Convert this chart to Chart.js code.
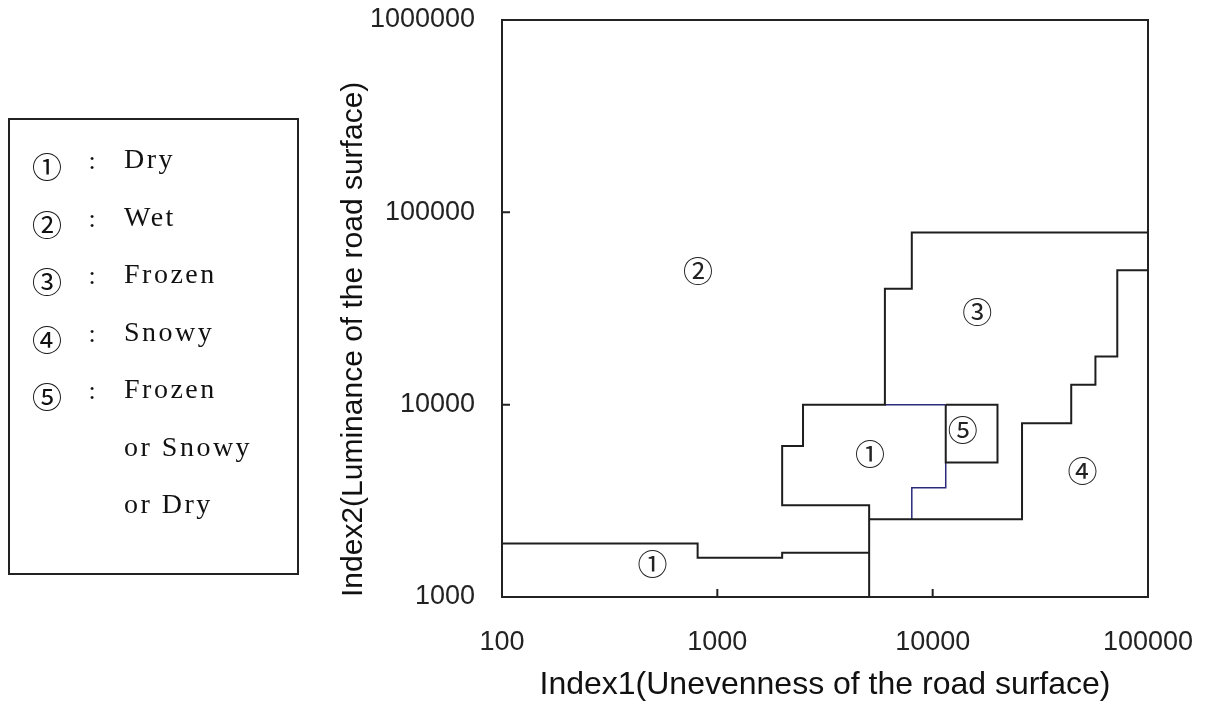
<!DOCTYPE html>
<html>
<head>
<meta charset="utf-8">
<script src="https://cdn.jsdelivr.net/npm/chart.js@4.4.0/dist/chart.umd.min.js"></script>
<style>
  body { margin: 0; background: #fff; }
  #wrap { position: relative; width: 1206px; height: 704px; }
  #legendBox {
    position: absolute; left: 8px; top: 118px; width: 287px; height: 453px;
    border: 2px solid #222; box-sizing: content-box;
  }
  .row { position: absolute; left: 0; height: 30px; line-height: 30px; color: #111; }
  .key { position: absolute; left: 20px; width: 34px; text-align: center; font: 30px "Noto Sans CJK JP", sans-serif; }
  .colon { position: absolute; left: 77px; width: 10px; text-align: center; font: 26px "Liberation Serif", serif; top: 3px; }
  .txt { position: absolute; left: 114px; white-space: nowrap; font: 28px "Liberation Serif", serif; letter-spacing: 2.5px; }
</style>
</head>
<body>
<div id="wrap">
  <canvas id="chart" width="1206" height="704"></canvas>
  <div id="legendBox"></div>
</div>
<script>
// axis ticks
const xTickValues = [100, 1000, 10000, 100000];
const yTickValues = [1000, 10000, 100000, 1000000];

// region boundaries, corners as [Index1, Index2]
const dryLowTop = [[100, 1900], [810, 1900], [810, 1600], [2000, 1600], [2000, 1700], [5070, 1700]];
const dryWetEdge = [[5070, 1000], [5070, 3000], [2000, 3000], [2000, 6100], [2500, 6100], [2500, 10000],
                    [6000, 10000], [6000, 40000], [8000, 40000], [8000, 78500], [100000, 78500]];
const snowyEdge = [[5070, 2540], [26000, 2540], [26000, 8000], [44000, 8000], [44000, 12700], [57000, 12700],
                   [57000, 17800], [72000, 17800], [72000, 50000], [100000, 50000]];
const mixedBox = [[11500, 10000], [20000, 10000], [20000, 5000], [11500, 5000], [11500, 10000]];
const dryFrozenTop = [[6000, 10000], [11500, 10000]];
const dryFrozenStep = [[11500, 5000], [11500, 3700], [8000, 3700], [8000, 2540]];

// region markers
const regionLabels = ['①', '②', '③', '④', '⑤', '①'];
const regionX = [500, 813, 16100, 49600, 13800, 5110];
const regionY = [1500, 50000, 30400, 4540, 7450, 5600];

// legend
const legendKeys = ['①', '②', '③', '④', '⑤', '', ''];
const legendTexts = ['Dry', 'Wet', 'Frozen', 'Snowy', 'Frozen', 'or Snowy', 'or Dry'];

const box = document.getElementById('legendBox');
legendTexts.forEach((t, i) => {
    const row = document.createElement('div');
    row.className = 'row';
    row.style.top = (158 - 120 - 15 + i * 57.5) + 'px';
    row.style.width = '100%';
    if (legendKeys[i]) {
        row.innerHTML = '<span class="key">' + legendKeys[i] + '</span><span class="colon">:</span>';
    }
    const s = document.createElement('span');
    s.className = 'txt';
    s.textContent = t;
    row.appendChild(s);
    box.appendChild(row);
});

const toPts = arr => arr.map(p => ({ x: p[0], y: p[1] }));
const lineSet = (data, color, width) => ({
    data: toPts(data),
    showLine: true,
    borderColor: color,
    borderWidth: width,
    pointRadius: 0,
    tension: 0,
    fill: false
});

const framePlugin = {
    id: 'frame',
    afterDatasetsDraw(chart) {
        const { ctx, chartArea: a, scales } = chart;
        ctx.save();
        ctx.strokeStyle = '#222';
        ctx.lineWidth = 2;
        ctx.strokeRect(a.left, a.top, a.right - a.left, a.bottom - a.top);
        ctx.beginPath();
        xTickValues.forEach(v => {
            const px = scales.x.getPixelForValue(v);
            ctx.moveTo(px, a.bottom);
            ctx.lineTo(px, a.bottom - 8);
        });
        yTickValues.forEach(v => {
            const py = scales.y.getPixelForValue(v);
            ctx.moveTo(a.left, py);
            ctx.lineTo(a.left + 8, py);
        });
        ctx.stroke();

        ctx.fillStyle = '#222';
        ctx.font = '30px "Noto Sans CJK JP", sans-serif';
        ctx.textAlign = 'center';
        ctx.textBaseline = 'middle';
        regionLabels.forEach((t, i) => {
            ctx.fillText(t, scales.x.getPixelForValue(regionX[i]), scales.y.getPixelForValue(regionY[i]));
        });
        ctx.restore();
    }
};

const tickFont = { family: "'Liberation Sans', Arial, sans-serif", size: 27 };

new Chart(document.getElementById('chart').getContext('2d'), {
    type: 'scatter',
    data: {
        datasets: [
            lineSet(dryLowTop, '#1e1e1e', 2),
            lineSet(dryWetEdge, '#1e1e1e', 2),
            lineSet(snowyEdge, '#1e1e1e', 2),
            lineSet(mixedBox, '#1e1e1e', 2),
            lineSet(dryFrozenTop, '#2a2a7a', 1.5),
            lineSet(dryFrozenStep, '#2a2a7a', 1.5)
        ]
    },
    options: {
        responsive: false,
        animation: false,
        layout: { padding: { left: 336, top: 20, right: 58, bottom: 0 } },
        plugins: { legend: { display: false }, tooltip: { enabled: false } },
        scales: {
            x: {
                type: 'logarithmic',
                min: 100,
                max: 100000,
                afterBuildTicks: a => { a.ticks = xTickValues.map(v => ({ value: v })); },
                afterFit: a => { a.height = 107; a.paddingLeft = 0; a.paddingRight = 0; },
                grid: { display: false, drawTicks: false },
                border: { display: false },
                ticks: { padding: 29, color: '#222', font: tickFont, maxRotation: 0, autoSkip: false, callback: v => String(v) },
                title: { display: true, text: 'Index1(Unevenness of the road surface)', color: '#111', font: { family: tickFont.family, size: 32 }, padding: 0 }
            },
            y: {
                type: 'logarithmic',
                min: 1000,
                max: 1000000,
                afterBuildTicks: a => { a.ticks = yTickValues.map(v => ({ value: v })); },
                afterFit: a => { a.width = 166; a.paddingTop = 0; a.paddingBottom = 0; },
                grid: { display: false, drawTicks: false },
                border: { display: false },
                ticks: { padding: 27, color: '#222', font: tickFont, autoSkip: false, callback: v => String(v) },
                title: { display: true, text: 'Index2(Luminance of the road surface)', color: '#111', font: { family: tickFont.family, size: 30 }, padding: 0, align: 'start' }
            }
        }
    },
    plugins: [framePlugin]
});
</script>
</body>
</html>
